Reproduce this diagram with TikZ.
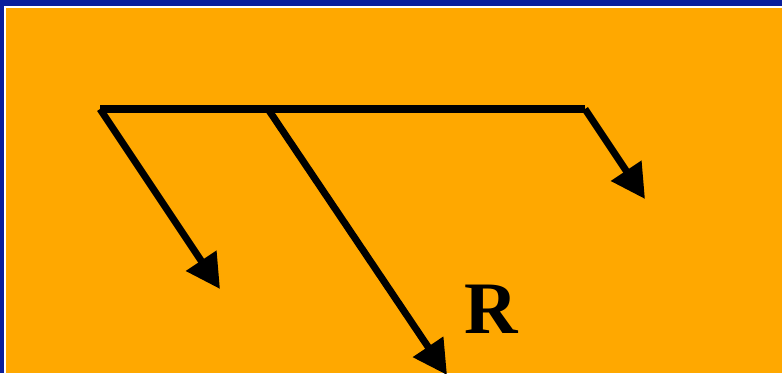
\documentclass[tikz,border=0pt]{standalone}
\usepackage{fontspec}
\setmainfont{Liberation Serif}
\usetikzlibrary{arrows.meta,positioning}

\definecolor{slideblue}{HTML}{0A1E9C}
\definecolor{slideorange}{HTML}{FFA800}

\begin{document}
\begin{tikzpicture}[x=1pt, y=-1pt,
    ray/.style={line width=7pt, -{Triangle[length=34pt, width=35pt]}},
    bar/.style={line width=7.5pt},
    label/.style={font=\bfseries\fontsize{74}{74}\selectfont, inner sep=0pt, anchor=base}
]

% Background
\fill[slideblue] (0,0) rectangle (782,373);
\fill[white] (3.5,6) rectangle (782,373);
\fill[slideorange] (5.5,7.5) rectangle (782,373);
\useasboundingbox (0,0) rectangle (782,373);
\clip (0,0) rectangle (782,373);

% Points on the bar
\coordinate (a) at (100,109);
\coordinate (b) at (268,109);
\coordinate (c) at (585,109);

% Arrow tips
\coordinate (ta) at (220,289);
\coordinate (tb) at (447,375);
\coordinate (tc) at (645,199);

% Bar
\draw[bar] (a) -- (c);

% Rays
\draw[ray] (a) -- (ta);
\draw[ray] (b) -- (tb);
\draw[ray] (c) -- (tc);

% Label
\node[label] (r) at (491,333) {R};

\end{tikzpicture}
\end{document}
